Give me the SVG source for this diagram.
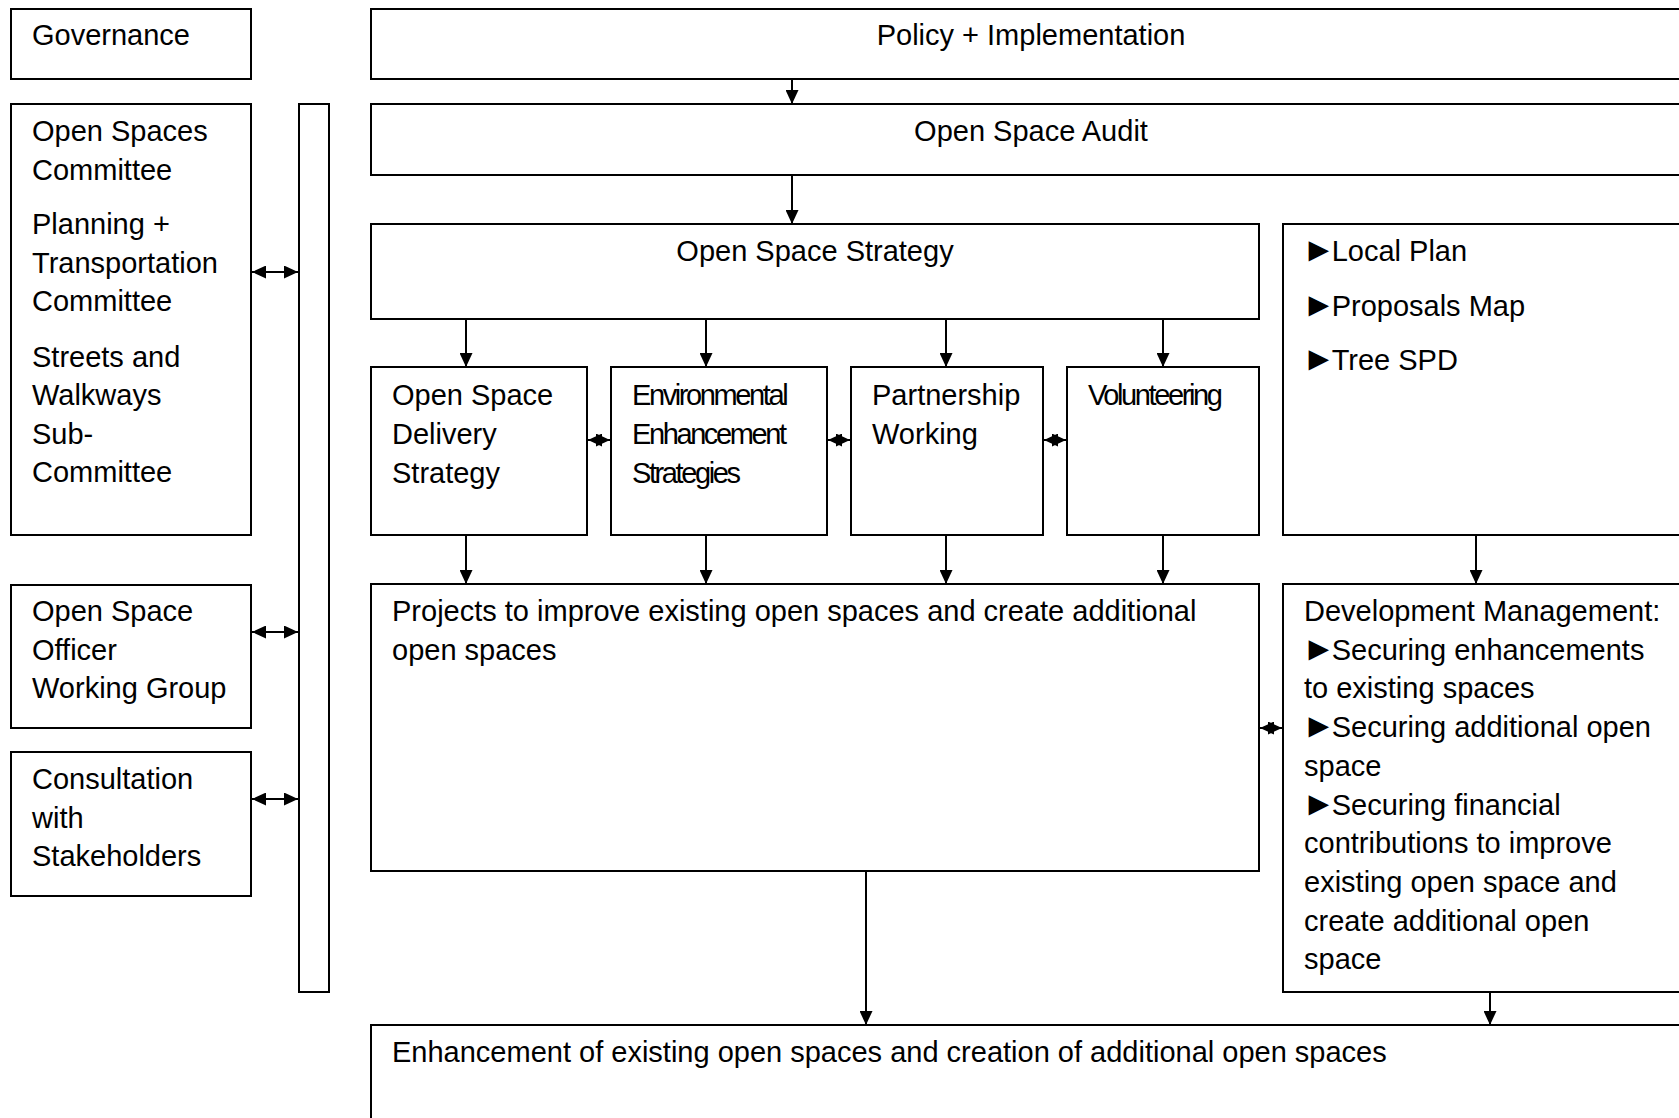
<svg xmlns="http://www.w3.org/2000/svg" width="1679" height="1118" viewBox="0 0 1679 1118">
<style>
.box{fill:#fff;stroke:#000;stroke-width:2}
.t{font-family:"Liberation Sans",Arial,sans-serif;font-size:29px;fill:#000}
.c{text-anchor:middle}
.cn{letter-spacing:-2.4px}
.tri{font-size:34px}
.ln{stroke:#000;stroke-width:2;fill:none}
</style>
<defs>
<marker id="ah" viewBox="0 0 14 13" refX="14" refY="6.5" markerWidth="14" markerHeight="13" markerUnits="userSpaceOnUse" orient="auto-start-reverse">
<path d="M0,0 L14,6.5 L0,13 Z" fill="#000"/>
</marker>
</defs>
<rect width="1679" height="1118" fill="#fff"/>

<g id="governance"><rect class="box" x="11" y="9" width="240" height="70"/><text class="t" x="32" y="45">Governance</text></g>
<g id="policy"><rect class="box" x="371" y="9" width="1330" height="70"/><text class="t c" x="1031" y="45">Policy + Implementation</text></g>
<g id="committees"><rect class="box" x="11" y="104" width="240" height="431"/>
<text class="t" x="32" y="141">Open Spaces</text>
<text class="t" x="32" y="180">Committee</text>
<text class="t" x="32" y="234">Planning +</text>
<text class="t" x="32" y="273">Transportation</text>
<text class="t" x="32" y="311">Committee</text>
<text class="t" x="32" y="367">Streets and</text>
<text class="t" x="32" y="405">Walkways</text>
<text class="t" x="32" y="444">Sub-</text>
<text class="t" x="32" y="482">Committee</text></g>
<g id="bar"><rect class="box" x="299" y="104" width="30" height="888"/></g>
<g id="audit"><rect class="box" x="371" y="104" width="1330" height="71"/><text class="t c" x="1031" y="141">Open Space Audit</text></g>
<g id="strategy"><rect class="box" x="371" y="224" width="888" height="95"/><text class="t c" x="815" y="261">Open Space Strategy</text></g>
<g id="localplan"><rect class="box" x="1283" y="224" width="420" height="311"/>
<text class="t" x="1302" y="261"><tspan class="tri">►</tspan><tspan dx="-4">Local Plan</tspan></text>
<text class="t" x="1302" y="316"><tspan class="tri">►</tspan><tspan dx="-4">Proposals Map</tspan></text>
<text class="t" x="1302" y="370"><tspan class="tri">►</tspan><tspan dx="-4">Tree SPD</tspan></text></g>
<g id="delivery"><rect class="box" x="371" y="367" width="216" height="168"/>
<text class="t" x="392" y="405">Open Space</text>
<text class="t" x="392" y="444">Delivery</text>
<text class="t" x="392" y="483">Strategy</text></g>
<g id="environmental"><rect class="box" x="611" y="367" width="216" height="168"/>
<text class="t cn" x="632" y="405">Environmental</text>
<text class="t cn" x="632" y="444">Enhancement</text>
<text class="t cn" x="632" y="483">Strategies</text></g>
<g id="partnership"><rect class="box" x="851" y="367" width="192" height="168"/>
<text class="t" x="872" y="405">Partnership</text>
<text class="t" x="872" y="444">Working</text></g>
<g id="volunteering"><rect class="box" x="1067" y="367" width="192" height="168"/>
<text class="t cn" x="1088" y="405">Volunteering</text></g>
<g id="projects"><rect class="box" x="371" y="584" width="888" height="287"/>
<text class="t" x="392" y="621">Projects to improve existing open spaces and create additional</text>
<text class="t" x="392" y="660">open spaces</text></g>
<g id="devmgmt"><rect class="box" x="1283" y="584" width="420" height="408"/>
<text class="t" x="1304" y="621">Development Management:</text>
<text class="t" x="1302" y="660"><tspan class="tri">►</tspan><tspan dx="-4">Securing enhancements</tspan></text>
<text class="t" x="1304" y="698">to existing spaces</text>
<text class="t" x="1302" y="737"><tspan class="tri">►</tspan><tspan dx="-4">Securing additional open</tspan></text>
<text class="t" x="1304" y="776">space</text>
<text class="t" x="1302" y="815"><tspan class="tri">►</tspan><tspan dx="-4">Securing financial</tspan></text>
<text class="t" x="1304" y="853">contributions to improve</text>
<text class="t" x="1304" y="892">existing open space and</text>
<text class="t" x="1304" y="931">create additional open</text>
<text class="t" x="1304" y="969">space</text></g>
<g id="officers"><rect class="box" x="11" y="585" width="240" height="143"/>
<text class="t" x="32" y="621">Open Space</text>
<text class="t" x="32" y="660">Officer</text>
<text class="t" x="32" y="698">Working Group</text></g>
<g id="consultation"><rect class="box" x="11" y="752" width="240" height="144"/>
<text class="t" x="32" y="789">Consultation</text>
<text class="t" x="32" y="828">with</text>
<text class="t" x="32" y="866">Stakeholders</text></g>
<g id="enhancement"><rect class="box" x="371" y="1025" width="1330" height="200"/>
<text class="t" x="392" y="1062">Enhancement of existing open spaces and creation of additional open spaces</text></g>

<g id="connectors">
<line class="ln" x1="792" y1="79" x2="792" y2="104" marker-end="url(#ah)"/>
<line class="ln" x1="792" y1="175" x2="792" y2="224" marker-end="url(#ah)"/>
<line class="ln" x1="466" y1="319" x2="466" y2="367" marker-end="url(#ah)"/>
<line class="ln" x1="706" y1="319" x2="706" y2="367" marker-end="url(#ah)"/>
<line class="ln" x1="946" y1="319" x2="946" y2="367" marker-end="url(#ah)"/>
<line class="ln" x1="1163" y1="319" x2="1163" y2="367" marker-end="url(#ah)"/>
<line class="ln" x1="466" y1="535" x2="466" y2="584" marker-end="url(#ah)"/>
<line class="ln" x1="706" y1="535" x2="706" y2="584" marker-end="url(#ah)"/>
<line class="ln" x1="946" y1="535" x2="946" y2="584" marker-end="url(#ah)"/>
<line class="ln" x1="1163" y1="535" x2="1163" y2="584" marker-end="url(#ah)"/>
<line class="ln" x1="1476" y1="535" x2="1476" y2="584" marker-end="url(#ah)"/>
<line class="ln" x1="866" y1="871" x2="866" y2="1025" marker-end="url(#ah)"/>
<line class="ln" x1="1490" y1="992" x2="1490" y2="1025" marker-end="url(#ah)"/>
<line class="ln" x1="252" y1="272" x2="298" y2="272" marker-start="url(#ah)" marker-end="url(#ah)"/>
<line class="ln" x1="252" y1="632" x2="298" y2="632" marker-start="url(#ah)" marker-end="url(#ah)"/>
<line class="ln" x1="252" y1="799" x2="298" y2="799" marker-start="url(#ah)" marker-end="url(#ah)"/>
<line class="ln" x1="588" y1="440" x2="610" y2="440" marker-start="url(#ah)" marker-end="url(#ah)"/>
<line class="ln" x1="828" y1="440" x2="850" y2="440" marker-start="url(#ah)" marker-end="url(#ah)"/>
<line class="ln" x1="1044" y1="440" x2="1066" y2="440" marker-start="url(#ah)" marker-end="url(#ah)"/>
<line class="ln" x1="1260" y1="728" x2="1282" y2="728" marker-start="url(#ah)" marker-end="url(#ah)"/>
</g>
</svg>
